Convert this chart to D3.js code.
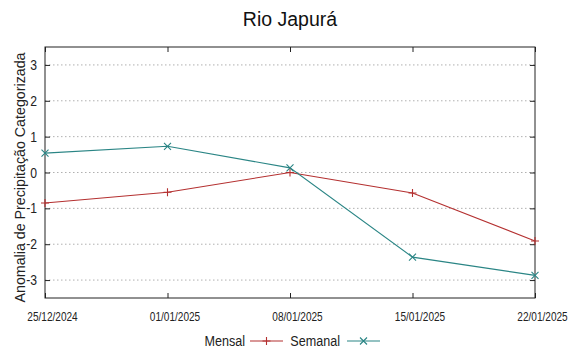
<!DOCTYPE html>
<html><head><meta charset="utf-8">
<script src="https://cdn.jsdelivr.net/npm/d3@7"></script>
<style>
body{margin:0;background:#fff;}
svg{display:block;font-family:"Liberation Sans",Arial,sans-serif;}
</style></head>
<body><svg id="c" width="583" height="353"></svg>
<script>
const dates = ["2024-12-25","2025-01-01","2025-01-08","2025-01-15","2025-01-22"];
const mensal = [-0.85, -0.55, 0.0, -0.57, -1.91];
const semanal = [0.54, 0.73, 0.13, -2.36, -2.87];
const yTicks = [-3,-2,-1,0,1,2,3];
const seriesNames = ["Mensal","Semanal"];
const colors = ["#b43030","#2a8585"];

const parse = d3.timeParse("%Y-%m-%d");
const xs = dates.map(parse);
const svg = d3.select("#c");
const L=45, R=535, T=47, B=298;
const x = d3.scaleTime().domain([xs[0], xs[xs.length-1]]).range([L,R]);
const y = d3.scaleLinear().domain([-3.5,3.5]).range([B,T]);
const sx = 0.84; // horizontal glyph squeeze

// grid
svg.append("g").selectAll("line").data(yTicks).join("line")
  .attr("x1",L).attr("x2",R).attr("y1",d=>y(d)).attr("y2",d=>y(d))
  .attr("stroke","#b0b0b0").attr("stroke-width",1).attr("stroke-dasharray","1.5,2.5");

// axes with inward ticks
const fmt = d3.timeFormat("%d/%m/%Y");
const gx = svg.append("g").attr("transform",`translate(0,${B})`)
  .call(d3.axisBottom(x).tickValues(xs).tickSize(-5).tickFormat(""));
const gxt = svg.append("g").attr("transform",`translate(0,${T})`)
  .call(d3.axisTop(x).tickValues(xs).tickSize(-5).tickFormat(""));
const gy = svg.append("g").attr("transform",`translate(${L},0)`)
  .call(d3.axisLeft(y).tickValues(yTicks).tickSize(-5).tickFormat(""));
const gyr = svg.append("g").attr("transform",`translate(${R},0)`)
  .call(d3.axisRight(y).tickValues(yTicks).tickSize(-5).tickFormat(""));
[gx,gxt,gy,gyr].forEach(g=>{g.select(".domain").remove();g.selectAll("line").attr("stroke","#222");});
svg.append("rect").attr("x",L).attr("y",T).attr("width",R-L).attr("height",B-T)
  .attr("fill","none").attr("stroke","#222").attr("stroke-width",1);

// x tick labels
svg.append("g").selectAll("text").data(xs).join("text")
  .attr("transform",d=>`translate(${x(d)+7.5},321) scale(${sx},1)`)
  .attr("text-anchor","middle").attr("font-size",12).attr("fill","#222").text(fmt);
// y tick labels
svg.append("g").selectAll("text").data(yTicks).join("text")
  .attr("transform",d=>`translate(37,${y(d)+5}) scale(${sx},1)`)
  .attr("text-anchor","end").attr("font-size",14.5).attr("fill","#222").text(d=>d);

// title
svg.append("text").attr("x",290).attr("y",26).attr("text-anchor","middle")
  .attr("font-size",19.5).attr("fill","#111").text("Rio Japurá");
// y label
svg.append("text").attr("transform",`translate(25,${(T+B)/2+5}) rotate(-90) scale(0.95,1)`)
  .attr("text-anchor","middle").attr("font-size",15).attr("fill","#222")
  .text("Anomalia de Precipitação Categorizada");

// lines
const line = d3.line().x((d,i)=>x(xs[i])).y(d=>y(d));
const series = [mensal, semanal];
series.forEach((s,k)=>{
  svg.append("path").datum(s).attr("d",line).attr("fill","none")
    .attr("stroke",colors[k]).attr("stroke-width",1.1);
});
function plus(g,cx,cy,c){g.append("path").attr("d",`M${cx-4},${cy}H${cx+4}M${cx},${cy-4}V${cy+4}`).attr("stroke",c).attr("stroke-width",1.1).attr("fill","none");}
function cross(g,cx,cy,c){g.append("path").attr("d",`M${cx-3.5},${cy-3.5}L${cx+3.5},${cy+3.5}M${cx-3.5},${cy+3.5}L${cx+3.5},${cy-3.5}`).attr("stroke",c).attr("stroke-width",1.1).attr("fill","none");}
const mk = svg.append("g");
mensal.forEach((v,i)=>plus(mk,x(xs[i]),y(v),colors[0]));
semanal.forEach((v,i)=>cross(mk,x(xs[i]),y(v),colors[1]));

// legend
const lg = svg.append("g");
const lgY = 341;
const items = [{tx:245, l1:250, l2:283, mark:plus},{tx:340, l1:347, l2:380, mark:cross}];
items.forEach((it,k)=>{
  lg.append("text").attr("transform",`translate(${it.tx},${lgY+5}) scale(${sx},1)`)
    .attr("text-anchor","end").attr("font-size",15).attr("fill","#222").text(seriesNames[k]);
  lg.append("line").attr("x1",it.l1).attr("x2",it.l2).attr("y1",lgY).attr("y2",lgY)
    .attr("stroke",colors[k]).attr("stroke-width",1.1);
  it.mark(lg,(it.l1+it.l2)/2,lgY,colors[k]);
});
</script></body></html>
